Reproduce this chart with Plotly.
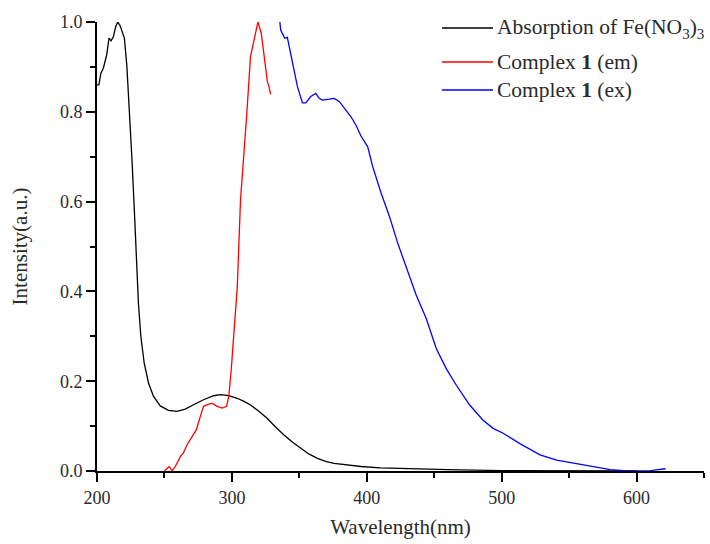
import plotly.graph_objects as go

# Absorption of Fe(NO3)3
abs_x = [200, 201.4, 202.9, 204.7, 207.2, 208.9, 210.4, 212.1, 213.9, 215.4, 217.1, 218.8, 220.3,
         222.1, 223.3, 224, 226, 228, 229.5, 230.7, 232.5, 235, 238.2, 241.9, 246.9, 253, 259.2,
         265.4, 271.6, 279, 286.5, 291.5, 297.7, 303.9, 309, 313.8, 320, 326.3, 332, 338.6, 345,
         351, 357, 363.4, 370, 375.8, 385, 395.7, 410, 430, 460, 500, 550, 600]
abs_y = [0.86, 0.86, 0.886, 0.897, 0.927, 0.964, 0.958, 0.967, 0.99, 1.0, 0.992, 0.975, 0.964,
         0.904, 0.845, 0.793, 0.69, 0.56, 0.448, 0.374, 0.30, 0.24, 0.196, 0.166, 0.145, 0.135, 0.1327,
         0.138, 0.1476, 0.1587, 0.1676, 0.17, 0.168, 0.162, 0.155, 0.147, 0.133, 0.117, 0.099, 0.08, 0.064,
         0.05, 0.038, 0.028, 0.021, 0.017, 0.013, 0.010, 0.007, 0.005, 0.003, 0.001, 0.0005, 0.0]

# Complex 1 emission
em_x = [250, 251.8, 253.6, 255.6, 258, 261.8, 264, 266.7, 270, 273.7, 276.6, 279, 282, 285.3, 289,
        292.8, 296, 297.7, 299.5, 301.5, 304, 306.4, 308.4, 310.9, 313.8, 316.3, 319.3, 321.8,
        323.8, 326.3, 327.5, 328.7]
em_y = [0.0, 0.006, 0.01, 0.0, 0.01, 0.032, 0.04, 0.058, 0.075, 0.092, 0.1216, 0.144, 0.1476, 0.151,
        0.144, 0.140, 0.144, 0.166, 0.225, 0.314, 0.41, 0.604, 0.678, 0.789, 0.923, 0.96, 1.0, 0.975,
        0.93, 0.867, 0.856, 0.839]

# Complex 1 excitation
ex_x = [335.2, 336.2, 338.2, 339.1, 341.1, 343.6, 346.1, 348.6, 352.3, 354.8, 358.5, 362.2, 364.7, 367.3,
        372.2, 375.8, 379.6, 383.3, 388.3, 392, 395.7, 400.7, 404.4, 410.6, 416.8, 423, 430.4,
        436.6, 444, 451.5, 458.9, 466.4, 476.3, 486.2, 493.7, 501.1, 513.5, 528.4, 540.8, 553.2,
        565.6, 580.5, 590.4, 601.6, 610.3, 617.8, 621.5]
ex_y = [1.01, 0.982, 0.97, 0.964, 0.966, 0.93, 0.893, 0.856, 0.82, 0.82, 0.834, 0.841, 0.83, 0.826,
        0.828, 0.83, 0.823, 0.808, 0.789, 0.77, 0.746, 0.722, 0.678, 0.619, 0.567, 0.507, 0.444,
        0.392, 0.34, 0.273, 0.228, 0.191, 0.147, 0.113, 0.095, 0.084, 0.061, 0.036, 0.024, 0.017,
        0.01, 0.003, 0.001, 0.0, 0.001, 0.003, 0.005]

series_names = ["Absorption of Fe(NO<sub>3</sub>)<sub>3</sub>", "Complex <b>1</b> (em)", "Complex <b>1</b> (ex)"]
series_colors = ["#000000", "#ff0000", "#0000ff"]

x_ticks = [200, 300, 400, 500, 600]
y_ticks = [0.0, 0.2, 0.4, 0.6, 0.8, 1.0]

FONT = "Liberation Serif, Times New Roman, serif"
TXT = "#2a2a2a"

fig = go.Figure()
for xs, ys, nm, col in zip([abs_x, em_x, ex_x], [abs_y, em_y, ex_y], series_names, series_colors):
    fig.add_trace(go.Scatter(x=xs, y=ys, mode="lines", line=dict(color=col, width=1.3),
                             name=nm, showlegend=False))

axis_common = dict(showgrid=False, zeroline=False, showline=True, linecolor="#000000", linewidth=2,
                   ticks="outside", ticklen=9, tickwidth=1.5, tickcolor="#000000",
                   tickfont=dict(family=FONT, size=18, color=TXT))

fig.update_xaxes(range=[200, 650], tickvals=x_ticks, ticktext=[str(v) for v in x_ticks],
                 minor=dict(dtick=50, tick0=200, ticks="outside", ticklen=5, tickwidth=1.5, tickcolor="#000000"),
                 title=dict(text="Wavelength(nm)", font=dict(family=FONT, size=21, color=TXT), standoff=13),
                 **axis_common)
fig.update_yaxes(range=[0, 1.0], tickvals=y_ticks, ticktext=[f"{v:.1f}" for v in y_ticks],
                 minor=dict(dtick=0.1, tick0=0, ticks="outside", ticklen=5, tickwidth=1.5, tickcolor="#000000"),
                 title=dict(text="Intensity(a.u.)", font=dict(family=FONT, size=21, color=TXT), standoff=27),
                 **axis_common)

# manual legend (paper coords): plot spans px 97..704 horizontally, 22..471 vertically
leg_rows = [0.9866, 0.9109, 0.8486]
for nm, col, yy in zip(series_names, series_colors, leg_rows):
    fig.add_shape(type="line", xref="paper", yref="paper", x0=0.5684, x1=0.6524, y0=yy, y1=yy,
                  line=dict(color=col, width=1.3))
    fig.add_annotation(xref="paper", yref="paper", x=0.6557, y=yy, text=nm, showarrow=False,
                       xanchor="left", yanchor="middle", align="left",
                       font=dict(family=FONT, size=21.5, color=TXT))

fig.update_layout(
    width=710, height=544,
    margin=dict(l=97, r=6, t=22, b=73),
    plot_bgcolor="white", paper_bgcolor="white",
    showlegend=False,
)

fig.write_html("out.html")
